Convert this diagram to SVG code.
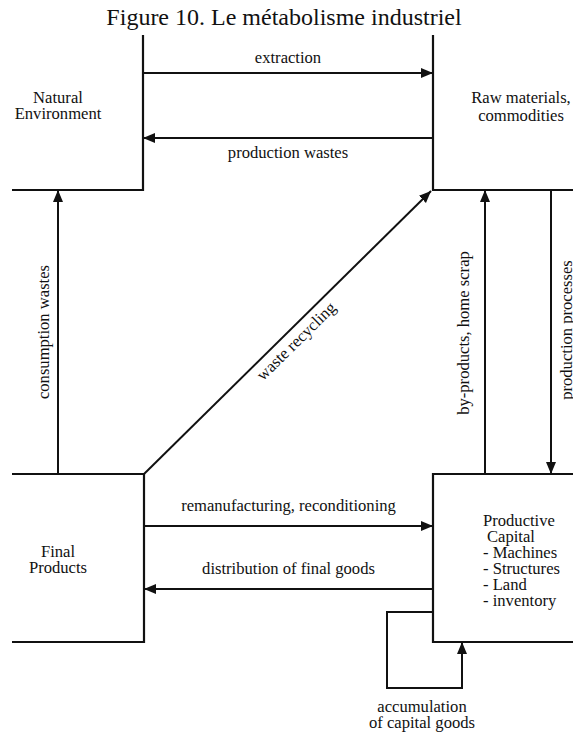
<svg xmlns="http://www.w3.org/2000/svg" width="573" height="738" viewBox="0 0 573 738">
<style>
.t{font-family:"Liberation Serif","Times New Roman",serif;font-size:16.6px;fill:#111;}
.ttl{font-family:"Liberation Serif","Times New Roman",serif;font-size:24px;fill:#111;}
.b{fill:none;stroke:#111;stroke-width:2.2;}
.a{fill:none;stroke:#111;stroke-width:2;}
</style>
<defs>
<marker id="ah" markerUnits="userSpaceOnUse" markerWidth="12" markerHeight="12" viewBox="0 0 12 10" refX="12" refY="5" orient="auto">
<path d="M0,0 L12,5 L0,10 z" fill="#111"/>
</marker>
</defs>
<rect width="573" height="738" fill="#fff"/>
<text class="ttl" x="284" y="25" text-anchor="middle">Figure 10. Le métabolisme industriel</text>

<g id="natural-environment">
<path class="b" d="M143,35 V190 H12"/>
<text class="t" x="58" y="103" text-anchor="middle">Natural</text>
<text class="t" x="58" y="119" text-anchor="middle">Environment</text>
</g>
<g id="raw-materials">
<path class="b" d="M433,35 V190 H573"/>
<text class="t" x="521" y="103" text-anchor="middle">Raw materials,</text>
<text class="t" x="521" y="121" text-anchor="middle">commodities</text>
</g>
<g id="final-products">
<path class="b" d="M12,474 H144 V642 H12"/>
<text class="t" x="58" y="557" text-anchor="middle">Final</text>
<text class="t" x="58" y="573" text-anchor="middle">Products</text>
</g>
<g id="productive-capital">
<path class="b" d="M573,474 H433 V642 H573"/>
<text class="t" x="483" y="526">Productive</text>
<text class="t" x="487" y="542">Capital</text>
<text class="t" x="483" y="558">- Machines</text>
<text class="t" x="483" y="574">- Structures</text>
<text class="t" x="483" y="590">- Land</text>
<text class="t" x="483" y="606">- inventory</text>
</g>

<g id="connectors">
<line class="a" x1="143" y1="73" x2="433" y2="73" marker-end="url(#ah)"/>
<text class="t" x="288" y="63" text-anchor="middle">extraction</text>
<line class="a" x1="433" y1="138" x2="143" y2="138" marker-end="url(#ah)"/>
<text class="t" x="288" y="158" text-anchor="middle">production wastes</text>
<line class="a" x1="58" y1="474" x2="58" y2="190" marker-end="url(#ah)"/>
<text class="t" transform="translate(49,332) rotate(-90)" text-anchor="middle">consumption wastes</text>
<line class="a" x1="144" y1="474" x2="431" y2="191" marker-end="url(#ah)"/>
<text class="t" transform="translate(300,345) rotate(-44.6)" text-anchor="middle">waste recycling</text>
<line class="a" x1="485" y1="474" x2="485" y2="190" marker-end="url(#ah)"/>
<text class="t" transform="translate(469,333) rotate(-90)" text-anchor="middle">by-products, home scrap</text>
<line class="a" x1="551" y1="190" x2="551" y2="474" marker-end="url(#ah)"/>
<text class="t" transform="translate(572,330) rotate(-90)" text-anchor="middle">production processes</text>
<line class="a" x1="144" y1="526" x2="433" y2="526" marker-end="url(#ah)"/>
<text class="t" x="288.5" y="511" text-anchor="middle">remanufacturing, reconditioning</text>
<line class="a" x1="433" y1="589" x2="144" y2="589" marker-end="url(#ah)"/>
<text class="t" x="288.5" y="574" text-anchor="middle">distribution of final goods</text>
<polyline class="a" points="433,612 387,612 387,688 462,688 462,642" marker-end="url(#ah)"/>
<text class="t" x="422" y="712" text-anchor="middle">accumulation</text>
<text class="t" x="422" y="728" text-anchor="middle">of capital goods</text>
</g>
</svg>
